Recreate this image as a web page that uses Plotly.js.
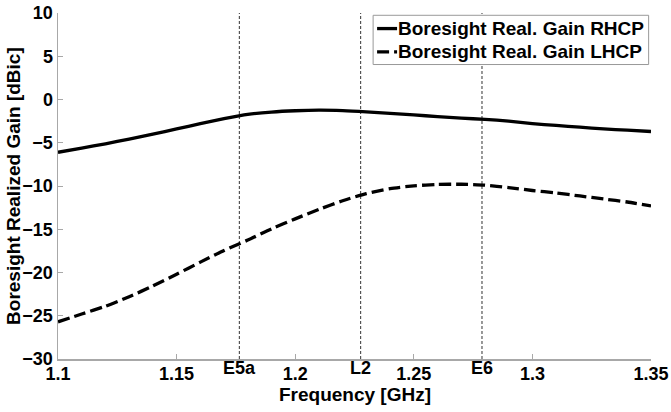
<!DOCTYPE html>
<html>
<head>
<meta charset="utf-8">
<script src="https://cdn.plot.ly/plotly-3.0.1.min.js"></script>
<style>html,body{margin:0;padding:0;background:#fff;}#chart{width:671px;height:412px;}</style>
</head>
<body>
<div id="chart"></div>
<script>
const freq = [1.10,1.11,1.12,1.13,1.14,1.15,1.16,1.17,1.18,1.19,1.20,1.21,1.22,1.23,1.24,1.25,1.26,1.27,1.28,1.29,1.30,1.31,1.32,1.33,1.34,1.35];
const rhcp = [-6.1,-5.62,-5.12,-4.58,-4.0,-3.4,-2.8,-2.22,-1.72,-1.45,-1.3,-1.23,-1.28,-1.42,-1.6,-1.78,-1.98,-2.15,-2.3,-2.5,-2.78,-3.0,-3.2,-3.4,-3.55,-3.7];
const lhcp = [-25.7,-24.8,-23.9,-22.8,-21.55,-20.2,-18.8,-17.45,-16.25,-14.95,-13.8,-12.7,-11.7,-10.88,-10.3,-9.98,-9.82,-9.8,-9.9,-10.18,-10.52,-10.8,-11.15,-11.5,-11.85,-12.3];
const seriesNames = ["Boresight Real. Gain RHCP","Boresight Real. Gain LHCP"];
const bandNames = ["E5a","L2","E6"];
const bandFreqs = [1.17645,1.2276,1.27875];
const xTicks = [1.1,1.15,1.2,1.25,1.3,1.35];
const xTickText = ["1.1","1.15","1.2","1.25","1.3","1.35"];
const yTicks = [-30,-25,-20,-15,-10,-5,0,5,10];
const yTitle = "Boresight Realized Gain [dBic]";
const xTitle = "Frequency [GHz]";

const font = "Liberation Sans, Arial, sans-serif";
const dashes = ["solid","12px,5px"];
const traces = [
  {x: freq, y: rhcp, mode: "lines", name: seriesNames[0],
   line: {color: "#000", width: 3.3, shape: "spline", smoothing: 0.6}},
  {x: freq, y: lhcp, mode: "lines", name: seriesNames[1],
   line: {color: "#000", width: 3.3, dash: dashes[1], shape: "spline", smoothing: 0.6}}
];
const shapes = bandFreqs.map(f => ({type: "line", xref: "x", yref: "paper", x0: f, x1: f, y0: 0, y1: 1,
  line: {color: "#333", width: 1, dash: "3px,2px"}, layer: "below"}));
// legend box
const leg = {x0: 0.5314, x1: 0.9960, y0: 0.8511, y1: 0.9934, rows: [0.9550, 0.8875], lx0: 0.5381, lx1: 0.5718, tx: 0.5740};
shapes.push({type: "rect", xref: "paper", yref: "paper", x0: leg.x0, x1: leg.x1, y0: leg.y0, y1: leg.y1,
  fillcolor: "#fff", line: {color: "#999", width: 1}, layer: "above"});
seriesNames.forEach((n, i) => shapes.push({type: "line", xref: "paper", yref: "paper",
  x0: leg.lx0, x1: leg.lx1, y0: leg.rows[i], y1: leg.rows[i],
  line: {color: "#000", width: 3.3, dash: dashes[i]}, layer: "above"}));
const annotations = bandNames.map((n, i) => ({x: bandFreqs[i], xref: "x", y: 0, yref: "paper",
  yanchor: "top", xanchor: "center", text: "<b>" + n + "</b>", showarrow: false, yshift: 3,
  font: {family: font, size: 18, color: "#000"}}));
seriesNames.forEach((n, i) => annotations.push({x: leg.tx, xref: "paper", y: leg.rows[i], yref: "paper",
  xanchor: "left", yanchor: "middle", text: "<b>" + n + "</b>", showarrow: false, xshift: -2,
  font: {family: font, size: 19, color: "#000"}}));
annotations.push({x: -0.076, xref: "paper", y: 0.5, yref: "paper", xanchor: "center", yanchor: "middle",
  textangle: -90, text: "<b>" + yTitle + "</b>", showarrow: false,
  font: {family: font, size: 19, color: "#000"}});
annotations.push({x: 0.5, xref: "paper", y: 0, yref: "paper", xanchor: "center", yanchor: "top",
  yshift: -23, text: "<b>" + xTitle + "</b>", showarrow: false,
  font: {family: font, size: 19, color: "#000"}});
const layout = {
  width: 671, height: 412,
  margin: {l: 57.5, r: 20.3, t: 12.7, b: 52.7},
  paper_bgcolor: "#fff", plot_bgcolor: "#fff",
  font: {family: font, size: 18, color: "#000"},
  showlegend: false,
  xaxis: {range: [1.1, 1.35], tickvals: xTicks, ticktext: xTickText, showgrid: false, zeroline: false,
    showline: true, linecolor: "#a8a8a8", linewidth: 1.5, ticks: "inside", ticklen: 5, tickcolor: "#a8a8a8",
    ticklabelstandoff: -2,
    tickfont: {family: font, size: 18, color: "#000", weight: "bold"}},
  yaxis: {range: [-30, 10], tickvals: yTicks, showgrid: false, zeroline: false,
    showline: true, linecolor: "#a8a8a8", linewidth: 1.5, ticks: "inside", ticklen: 5, tickcolor: "#a8a8a8",
    tickfont: {family: font, size: 18, color: "#000", weight: "bold"}},
  shapes: shapes,
  annotations: annotations
};
Plotly.newPlot("chart", traces, layout, {staticPlot: true, displayModeBar: false});
</script>
</body>
</html>
